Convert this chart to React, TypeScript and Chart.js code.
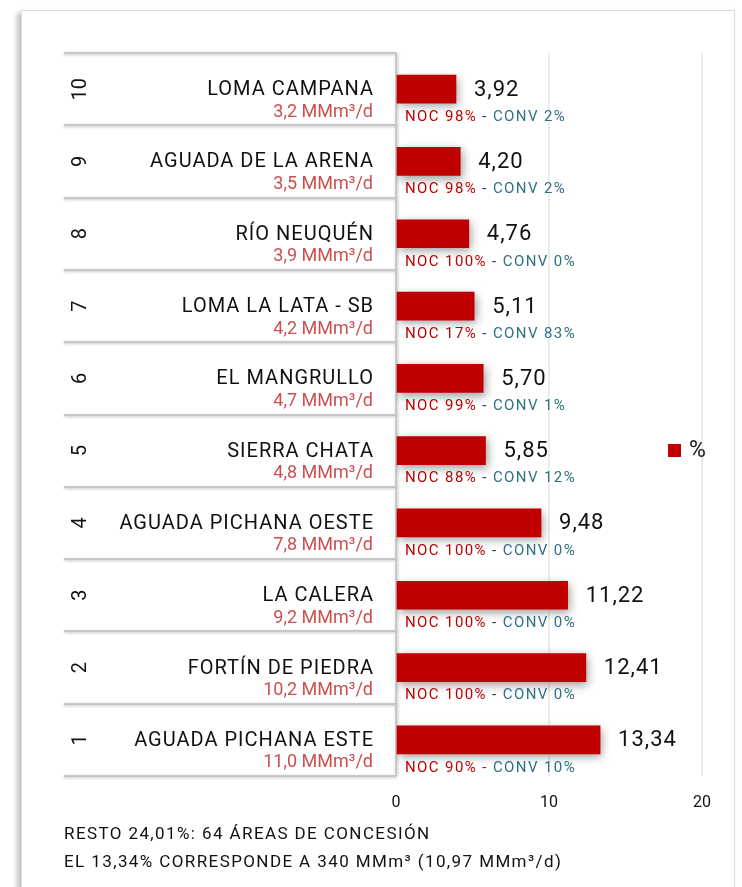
import React, { useEffect, useRef } from "react";
import { Chart, registerables } from "chart.js";

Chart.register(...registerables);

const ranks = ["1", "2", "3", "4", "5", "6", "7", "8", "9", "10"];
const names = [
  "AGUADA PICHANA ESTE",
  "FORTÍN DE PIEDRA",
  "LA CALERA",
  "AGUADA PICHANA OESTE",
  "SIERRA CHATA",
  "EL MANGRULLO",
  "LOMA LA LATA - SB",
  "RÍO NEUQUÉN",
  "AGUADA DE LA ARENA",
  "LOMA CAMPANA",
];
const production = ["11,0", "10,2", "9,2", "7,8", "4,8", "4,7", "4,2", "3,9", "3,5", "3,2"];
const shares = [13.34, 12.41, 11.22, 9.48, 5.85, 5.7, 5.11, 4.76, 4.2, 3.92];
const nocPct = [90, 100, 100, 100, 88, 99, 17, 100, 98, 98];
const convPct = [10, 0, 0, 0, 12, 1, 83, 0, 2, 2];
const xTicks = [0, 10, 20];
const seriesLabel = "%";
const footnotes = [
  "RESTO 24,01%: 64 ÁREAS DE CONCESIÓN",
  "EL 13,34% CORRESPONDE A 340 MMm³ (10,97 MMm³/d)",
];

const FONT = "Roboto, 'Noto Sans', sans-serif";
const RED = "#c00000";
const TEAL = "#2f7083";
const PROD_RED = "#c9504f";

const fmt = (v: number) => v.toFixed(2).replace(".", ",");

function setFont(ctx: any, size: number, spacing: number, weight = 400) {
  ctx.font = `${weight} ${size}px ${FONT}`;
  ctx.letterSpacing = `${spacing}px`;
}

const overlayPlugin = {
  id: "overlay",
  beforeDatasetsDraw(chart: any) {
    const ctx = chart.ctx;
    const y = chart.scales.y;
    const area = chart.chartArea;
    const left = 64;
    const right = area.left;
    const n = chart.data.labels.length;
    const half = Math.abs(y.getPixelForValue(1) - y.getPixelForValue(0)) / 2;
    ctx.save();
    ctx.shadowColor = "rgba(0,0,0,0.25)";
    ctx.shadowBlur = 3;
    ctx.shadowOffsetY = 1;
    ctx.strokeStyle = "#c8c8c8";
    ctx.lineWidth = 2;
    const boundaries: number[] = [];
    for (let i = 0; i < n; i++) {
      const c = y.getPixelForValue(i);
      boundaries.push(c + half, c - half);
    }
    const uniq = Array.from(new Set(boundaries.map((b) => Math.round(b))));
    uniq.forEach((b) => {
      ctx.beginPath();
      ctx.moveTo(left, b);
      ctx.lineTo(right, b);
      ctx.stroke();
    });
    ctx.shadowOffsetY = 0;
    ctx.shadowOffsetX = 1;
    ctx.beginPath();
    ctx.moveTo(right, area.top);
    ctx.lineTo(right, area.bottom);
    ctx.stroke();
    ctx.restore();

    // left labels
    ctx.save();
    for (let i = 0; i < n; i++) {
      const c = y.getPixelForValue(i);
      ctx.fillStyle = "#111";
      setFont(ctx, 20, 1);
      ctx.textAlign = "right";
      ctx.textBaseline = "middle";
      ctx.fillText(names[i], 374, c + 1);
      ctx.fillStyle = PROD_RED;
      setFont(ctx, 18, 0);
      ctx.fillText(`${production[i]} MMm³/d`, 373, c + 23);
      ctx.save();
      ctx.translate(81, c);
      ctx.rotate(-Math.PI / 2);
      ctx.textAlign = "center";
      ctx.fillStyle = "#111";
      setFont(ctx, 20, 0);
      ctx.fillText(ranks[i], 0, 0);
      ctx.restore();
    }
    ctx.restore();

    ctx.save();
    ctx.shadowColor = "rgba(0,0,0,0.4)";
    ctx.shadowBlur = 9;
    ctx.shadowOffsetX = 2;
    ctx.shadowOffsetY = 3;
  },
  afterDatasetsDraw(chart: any) {
    const ctx = chart.ctx;
    ctx.restore();
    const meta = chart.getDatasetMeta(0);
    const data = chart.data.datasets[0].data;
    ctx.save();
    meta.data.forEach((bar: any, i: number) => {
      ctx.fillStyle = "#111";
      setFont(ctx, 22, 1);
      ctx.textAlign = "left";
      ctx.textBaseline = "middle";
      ctx.fillText(fmt(data[i]), bar.x + 18, bar.y + 1);
      setFont(ctx, 15, 1.4);
      let x = bar.base + 8;
      const ty = bar.y + 28;
      const parts: [string, string][] = [
        [`NOC ${nocPct[i]}%`, RED],
        [" - ", "#333"],
        [`CONV ${convPct[i]}%`, TEAL],
      ];
      parts.forEach(([t, col]) => {
        ctx.fillStyle = col;
        ctx.fillText(t, x, ty);
        x += ctx.measureText(t).width;
      });
    });
    // legend
    ctx.fillStyle = RED;
    ctx.fillRect(668, 444, 13, 13);
    ctx.fillStyle = "#111";
    setFont(ctx, 23, 0);
    ctx.textBaseline = "middle";
    ctx.fillText(chart.data.datasets[0].label, 689, 451);
    // footnotes
    setFont(ctx, 17, 1.4);
    ctx.fillStyle = "#111";
    ctx.fillText(footnotes[0], 64, 835);
    ctx.fillText(footnotes[1], 64, 863);
    ctx.restore();
  },
};

export default function App() {
  const ref = useRef<HTMLCanvasElement | null>(null);
  useEffect(() => {
    if (!ref.current) return;
    const chart = new Chart(ref.current, {
      type: "bar",
      data: {
        labels: ranks,
        datasets: [
          {
            label: seriesLabel,
            data: shares,
            backgroundColor: RED,
            borderWidth: 0,
            barThickness: 28,
          },
        ],
      },
      options: {
        indexAxis: "y",
        responsive: false,
        animation: false,
        devicePixelRatio: 1,
        layout: { padding: { top: 53, right: 40, left: 0, bottom: 0 } },
        plugins: { legend: { display: false }, tooltip: { enabled: false } },
        scales: {
          y: {
            reverse: true,
            ticks: { display: false },
            grid: { display: false },
            border: { display: false },
            afterFit: (s: any) => {
              s.width = 396;
            },
          },
          x: {
            min: 0,
            max: 20,
            afterBuildTicks: (s: any) => {
              s.ticks = xTicks.map((v) => ({ value: v }));
            },
            ticks: {
              color: "#111",
              font: { family: FONT, size: 16 },
              padding: 17,
            },
            grid: { color: "#ececec", lineWidth: 2, drawTicks: false },
            border: { display: false },
            afterFit: (s: any) => {
              s.height = 111;
            },
          },
        },
      },
      plugins: [overlayPlugin],
    } as any);
    return () => chart.destroy();
  }, []);

  return (
    <div style={{ position: "fixed", left: 0, top: 0, width: 742, height: 887, background: "#fff", overflow: "hidden" }}>
      <div
        style={{
          position: "absolute",
          left: 21,
          top: 10,
          width: 712,
          height: 920,
          border: "1px solid #dcdcdc",
          boxShadow: "-4px 3px 5px rgba(0,0,0,0.25)",
          background: "#fff",
        }}
      />
      <canvas ref={ref} width={742} height={887} style={{ position: "absolute", left: 0, top: 0 }} />
    </div>
  );
}
